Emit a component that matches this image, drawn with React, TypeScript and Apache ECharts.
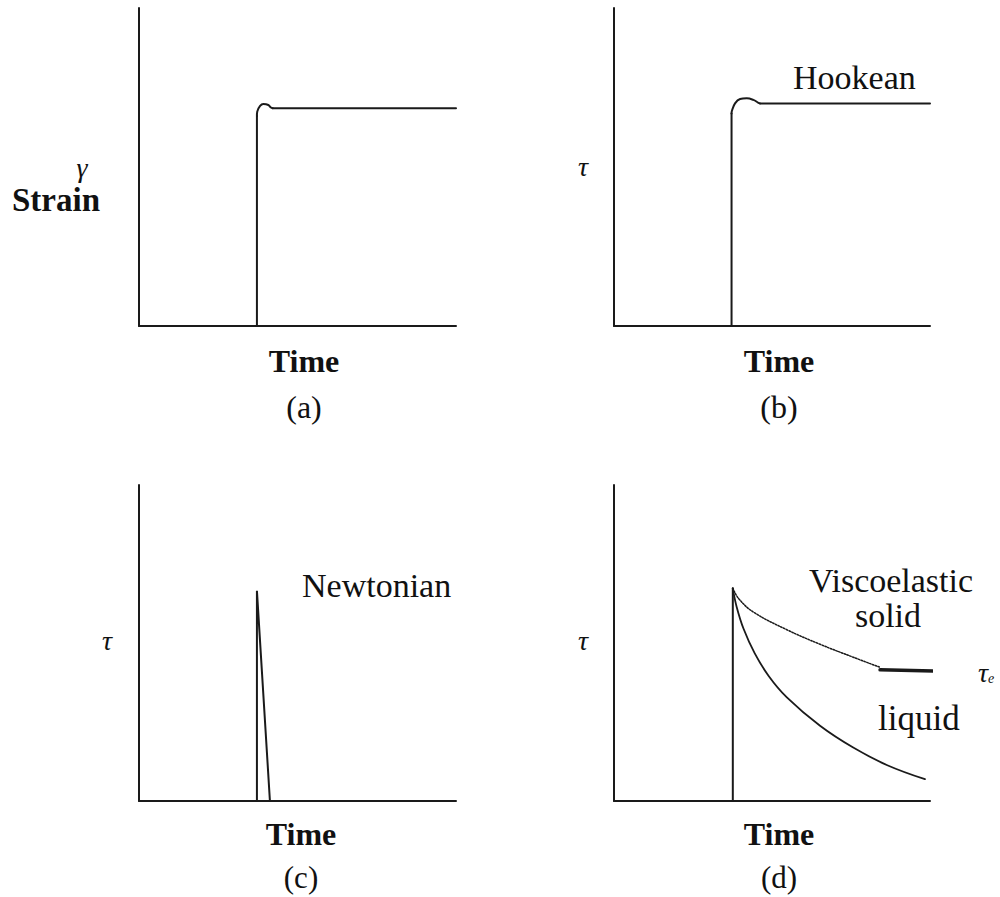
import React, { useEffect, useRef } from "react";
import * as echarts from "echarts";

// Panel (a): applied strain step with a small overshoot at the corner
const strainRise: number[][] = [[37.2, 0], [37.2, 66.0]];
const strainCorner: number[][] = [[37.2, 66.0], [37.3, 67.4], [38.2, 69.2], [39.2, 69.8], [40.8, 69.5], [41.6, 68.7], [42.2, 68.5]];
const strainHold: number[][] = [[42.2, 68.5], [100, 68.5]];

// Panel (b): Hookean stress response
const hookeRise: number[][] = [[37.2, 0], [37.2, 66.8]];
const hookeCorner: number[][] = [[37.2, 66.8], [37.3, 67.6], [38.3, 70.0], [39.9, 71.4], [42.0, 71.6], [44.1, 71.1], [45.7, 70.2], [46.2, 70.0]];
const hookeHold: number[][] = [[46.2, 70.0], [100, 70.0]];

// Panel (c): Newtonian stress spike
const newtonSpike: number[][] = [[37.2, 0], [37.2, 66.5], [41.3, 0]];

// Panel (d): viscoelastic relaxation
const viscoRise: number[][] = [[37.6, 0], [37.6, 67.3]];
const solidDecay: number[][] = [[37.6, 67.3], [39.5, 64.0], [44.1, 59.8], [54.7, 54.2], [65.2, 49.6], [75.7, 45.5], [84.2, 42.3]];
const solidPlateau: number[][] = [[84.2, 41.5], [113.9, 40.8]];
const liquidDecay: number[][] = [[37.6, 67.3], [38.8, 61.5], [41.0, 54.5], [44.5, 46.8], [49.0, 39.5], [54.7, 32.8], [65.2, 23.8], [75.7, 16.9], [86.3, 11.4], [98.4, 6.9]];

const SERIF = "Liberation Serif";
const INK = "#1a1a1a";

const grids = [
  { left: 139, top: 8, width: 317, height: 318 },
  { left: 614, top: 8, width: 316, height: 318 },
  { left: 139, top: 485, width: 317, height: 316 },
  { left: 614, top: 485, width: 316, height: 316 },
];

function axis(idx: number) {
  return {
    type: "value" as const,
    gridIndex: idx,
    min: 0,
    max: 100,
    axisLine: { show: true, onZero: false, lineStyle: { color: INK, width: 2 } },
    axisTick: { show: false },
    axisLabel: { show: false },
    splitLine: { show: false },
  };
}

function line(idx: number, data: number[][], opts: any = {}) {
  return {
    type: "line" as const,
    xAxisIndex: idx,
    yAxisIndex: idx,
    data,
    symbol: "none",
    clip: false,
    silent: true,
    smooth: opts.smooth ?? false,
    lineStyle: { color: INK, width: opts.width ?? 2, type: opts.type ?? "solid", cap: "round" },
  };
}

function label(text: string, x: number, y: number, size: number, extra: any = {}) {
  return {
    type: "text",
    x,
    y,
    style: {
      text,
      fill: "#111",
      fontFamily: SERIF,
      fontSize: size,
      fontStyle: extra.italic ? "italic" : "normal",
      fontWeight: extra.bold ? "bold" : "normal",
      textAlign: extra.align ?? "center",
      textVerticalAlign: "middle",
    },
  };
}

export default function App() {
  const ref = useRef<HTMLDivElement>(null);

  useEffect(() => {
    if (!ref.current) return;
    const chart = echarts.init(ref.current, undefined, { renderer: "svg" });
    chart.setOption({
      animation: false,
      backgroundColor: "#ffffff",
      grid: grids,
      xAxis: [0, 1, 2, 3].map(axis),
      yAxis: [0, 1, 2, 3].map(axis),
      series: [
        line(0, strainRise),
        line(0, strainCorner, { smooth: 0.4 }),
        line(0, strainHold),
        line(1, hookeRise),
        line(1, hookeCorner, { smooth: 0.4 }),
        line(1, hookeHold),
        line(2, newtonSpike),
        line(3, viscoRise),
        line(3, solidDecay, { smooth: 0.4, type: "dotted", width: 1.5 }),
        line(3, solidPlateau, { width: 3.5 }),
        line(3, liquidDecay, { smooth: 0.4, width: 1.8 }),
      ],
      graphic: [
        label("γ", 82, 167, 28, { italic: true }),
        label("Strain", 12, 200, 33, { bold: true, align: "left" }),
        label("Time", 304, 361, 32, { bold: true }),
        label("(a)", 304, 407, 32),

        label("τ", 583, 166, 28, { italic: true }),
        label("Hookean", 793, 77, 34, { align: "left" }),
        label("Time", 779, 361, 32, { bold: true }),
        label("(b)", 779, 407, 32),

        label("τ", 107, 640, 28, { italic: true }),
        label("Newtonian", 302, 585, 34, { align: "left" }),
        label("Time", 301, 834, 32, { bold: true }),
        label("(c)", 301, 877, 31),

        label("τ", 583, 640, 28, { italic: true }),
        label("Viscoelastic", 891, 580, 34),
        label("solid", 888, 615, 34),
        label("liquid", 878, 718, 35, { align: "left" }),
        {
          type: "text",
          x: 978,
          y: 672,
          style: {
            text: "{t|τ}{s|e}",
            textVerticalAlign: "middle",
            rich: {
              t: { fontFamily: SERIF, fontStyle: "italic", fontSize: 28, fill: "#111" },
              s: { fontFamily: SERIF, fontStyle: "italic", fontSize: 14, fill: "#111", padding: [12, 0, 0, 0] },
            },
          },
        },
        label("Time", 779, 834, 32, { bold: true }),
        label("(d)", 779, 877, 31),
      ],
    });
    return () => chart.dispose();
  }, []);

  return (
    <div
      ref={ref}
      style={{ position: "absolute", left: 0, top: 0, width: 1000, height: 897, background: "#fff" }}
    />
  );
}
